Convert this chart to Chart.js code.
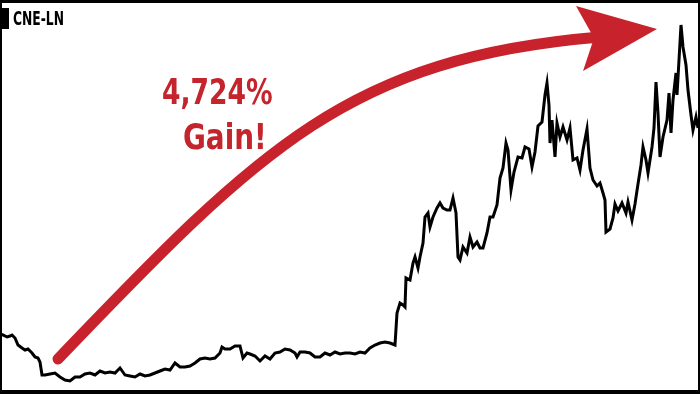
<!DOCTYPE html>
<html>
<head>
<meta charset="utf-8">
<script src="https://cdn.jsdelivr.net/npm/chart.js@4.4.0/dist/chart.umd.min.js"></script>
<style>
  body { margin: 0; background: #fff; }
  #wrap { position: relative; width: 700px; height: 394px; overflow: hidden; }
  #frame { position: absolute; left: 0; top: 0; right: 0; bottom: 0;
           border-style: solid; border-color: #000; border-width: 3px 2px 4px 2px; pointer-events: none; }
  #tagbox { position: absolute; left: 0; top: 8px; width: 9px; height: 21px; background: #000; }
  .cond { position: absolute; font-family: "Liberation Sans Narrow", "DejaVu Sans Condensed", sans-serif;
          font-weight: bold; white-space: nowrap; transform-origin: left top; }
  #tag { left: 13px; top: 9px; font-size: 19px; line-height: 19px; color: #000; transform: scaleX(0.72); }
  #gain1 { left: 162px; top: 74px; font-size: 36px; line-height: 36px; color: #c4242c; transform: scaleX(0.82); }
  #gain2 { left: 183px; top: 119px; font-size: 36px; line-height: 36px; color: #c4242c; transform: scaleX(0.86); }
</style>
</head>
<body>
<div id="wrap">
  <canvas id="myChart"></canvas>
  <div id="frame"></div>
  <div id="tagbox"></div>
  <div id="tag" class="cond">CNE-LN</div>
  <div id="gain1" class="cond">4,724%</div>
  <div id="gain2" class="cond">Gain!</div>
</div>
<script>
// Sesiones de cotizacion (eje x) y precio (eje y)
const dias = [0, 6, 14, 20, 24, 30, 36, 44, 50, 56, 64, 70, 76, 80, 84, 90, 100, 110, 120, 130,
  140, 150, 160, 170, 180, 190, 200, 210, 220, 230, 240, 250, 260, 270, 280, 290, 300, 310, 320, 330,
  340, 350, 360, 370, 380, 390, 400, 410, 420, 430, 440, 444, 450, 460, 470, 480, 486, 494, 500, 510,
  520, 530, 540, 550, 560, 570, 580, 590, 594, 600, 610, 620, 630, 640, 650, 660, 670, 680, 690, 700,
  710, 720, 730, 740, 750, 760, 770, 780, 790, 794, 800, 806, 810, 812, 820, 826, 830, 836, 840, 846,
  850, 856, 860, 866, 874, 880, 886, 894, 900, 906, 912, 916, 920, 926, 934, 940, 946, 954, 960, 966,
  974, 980, 986, 994, 1000, 1006, 1012, 1016, 1022, 1028, 1036, 1044, 1050, 1058, 1064, 1070, 1076, 1084, 1090, 1094,
  1098, 1100, 1104, 1110, 1114, 1120, 1126, 1134, 1140, 1146, 1154, 1160, 1166, 1174, 1180, 1186, 1194, 1200, 1206, 1210,
  1212, 1220, 1226, 1230, 1236, 1244, 1252, 1256, 1264, 1270, 1276, 1282, 1286, 1292, 1296, 1304, 1308, 1312, 1316, 1320,
  1326, 1334, 1338, 1342, 1346, 1352, 1354, 1362, 1366, 1372, 1376, 1382, 1386, 1392, 1396];

const precios = [5.5, 5.4, 5.2, 5.3, 5.4, 5.1, 4.4, 4.1, 3.9, 4.0, 3.6, 3.2, 3.1, 2.7, 1.4, 1.4, 1.5, 1.6, 1.2, 0.9,
  0.8, 1.2, 1.2, 1.5, 1.6, 1.4, 1.8, 1.6, 1.7, 1.6, 2.1, 1.4, 1.3, 1.2, 1.5, 1.3, 1.4, 1.6, 1.8, 2.0,
  1.9, 2.6, 2.2, 2.2, 2.3, 2.6, 3.0, 3.1, 3.0, 3.1, 3.6, 4.2, 4.0, 4.0, 4.3, 4.3, 3.1, 3.6, 3.5, 3.3,
  2.8, 3.3, 3.0, 3.6, 3.7, 4.0, 3.9, 3.6, 3.2, 3.7, 3.7, 3.6, 3.2, 3.2, 3.6, 3.4, 3.7, 3.5, 3.6, 3.6,
  3.5, 3.7, 3.6, 4.1, 4.4, 4.6, 4.7, 4.6, 4.4, 7.6, 8.6, 8.4, 8.2, 11.1, 10.9, 12.6, 13.2, 12.1, 13.2, 14.6,
  17.2, 17.6, 16.2, 17.2, 18.1, 18.6, 18.1, 17.9, 17.9, 19.1, 17.6, 13.2, 12.9, 14.2, 13.6, 15.2, 14.2, 14.7, 14.1, 14.1,
  15.6, 17.2, 17.2, 18.4, 21.1, 22.1, 24.6, 23.9, 19.9, 21.7, 23.2, 23.1, 24.2, 24.0, 22.2, 23.7, 26.3, 26.7, 29.4, 30.6,
  28.4, 24.6, 26.9, 23.2, 26.6, 25.2, 26.2, 24.9, 26.1, 22.9, 23.1, 21.9, 23.9, 26.0, 22.1, 20.9, 20.3, 20.6, 19.6, 18.9,
  15.7, 16.0, 17.1, 18.5, 17.8, 18.6, 17.6, 18.7, 16.9, 18.5, 20.5, 22.4, 24.2, 22.9, 21.6, 24.2, 26.1, 30.7, 27.6, 23.2,
  25.2, 26.9, 29.6, 25.6, 28.9, 31.6, 29.4, 36.4, 34.2, 32.4, 29.9, 27.4, 25.9, 27.2, 26.1];

const rangoDias = [0, 1400];
const rangoPrecio = [-0.5, 38.9];

// Flecha roja curva dibujada encima del grafico
const flechaPlugin = {
  id: 'flecha',
  afterDraw(chart) {
    const ctx = chart.ctx;
    ctx.save();
    ctx.strokeStyle = '#c8232c';
    ctx.fillStyle = '#c8232c';
    ctx.lineWidth = 11;
    ctx.lineCap = 'round';
    ctx.beginPath();
    ctx.moveTo(58, 359);
    ctx.bezierCurveTo(262, 146, 350, 58, 600, 37);
    ctx.stroke();
    ctx.beginPath();
    ctx.moveTo(576, 6);
    ctx.lineTo(657, 29);
    ctx.lineTo(583, 71);
    ctx.lineTo(594, 38);
    ctx.closePath();
    ctx.fill();
    ctx.restore();
  }
};

const ctx = document.getElementById('myChart').getContext('2d');
const myChart = new Chart(ctx, {
  type: 'line',
  data: {
    datasets: [{
      data: dias.map((d, i) => ({ x: d, y: precios[i] })),
      borderColor: '#000',
      borderWidth: 3,
      pointRadius: 0,
      tension: 0,
      fill: false
    }]
  },
  options: {
    responsive: true,
    maintainAspectRatio: false,
    animation: false,
    layout: { padding: 0 },
    plugins: { legend: { display: false }, tooltip: { enabled: false } },
    scales: {
      x: { type: 'linear', min: rangoDias[0], max: rangoDias[1], display: false },
      y: { min: rangoPrecio[0], max: rangoPrecio[1], display: false }
    }
  },
  plugins: [flechaPlugin]
});
</script>
</body>
</html>
